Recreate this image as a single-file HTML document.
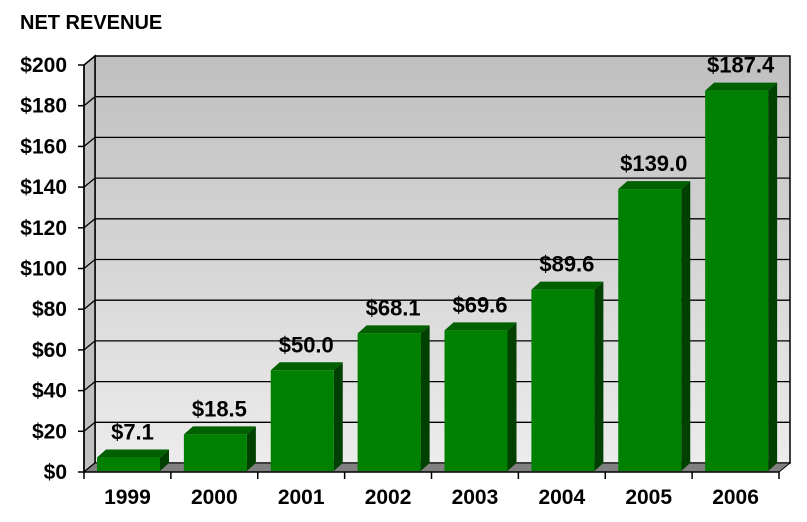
<!DOCTYPE html>
<html><head><meta charset="utf-8"><style>
body{margin:0;background:#fff;}
svg{display:block;font-family:"Liberation Sans",Arial,sans-serif;font-weight:bold;}
</style></head><body>
<svg id="chart" width="807" height="522" viewBox="0 0 807 522">
<defs><linearGradient id="wallg" x1="0" y1="0" x2="0" y2="1"><stop offset="0" stop-color="#bfbfbf"/><stop offset="1" stop-color="#ececec"/></linearGradient></defs>
<text x="20" y="29" font-size="20">NET REVENUE</text>
<g id="plot"></g>
</svg>
<script>
const categories=["1999","2000","2001","2002","2003","2004","2005","2006"];
const revenue=[7.1,18.5,50.0,68.1,69.6,89.6,139.0,187.4];
const valueLabels=["$7.1","$18.5","$50.0","$68.1","$69.6","$89.6","$139.0","$187.4"];
const yTicks=[0,20,40,60,80,100,120,140,160,180,200];
const yTickLabels=["$0","$20","$40","$60","$80","$100","$120","$140","$160","$180","$200"];

const NS="http://www.w3.org/2000/svg";
const g=document.getElementById('plot');
const X0=84,X1=779,Y0=472,Y1=65,DX=11,DY=-9;
const yMax=200;
const y=v=>Y0-(v/yMax)*(Y0-Y1);
const slot=(X1-X0)/categories.length;
const x=i=>X0+i*slot;
function el(t,a,txt){const e=document.createElementNS(NS,t);for(const k in a)e.setAttribute(k,a[k]);if(txt!=null)e.textContent=txt;g.appendChild(e);return e;}
let w=el('rect',{x:X0+DX,y:Y1+DY,width:X1-X0,height:Y0-Y1,fill:'url(#wallg)',stroke:'#000','stroke-width':1.5});


let sw=el('polygon',{points:`${X0},${Y1} ${X0+DX},${Y1+DY} ${X0+DX},${Y0+DY} ${X0},${Y0}`,fill:'#c0c0c0',stroke:'#000','stroke-width':1.5});


let fl=el('polygon',{points:`${X0},${Y0} ${X0+DX},${Y0+DY} ${X1+DX},${Y0+DY} ${X1},${Y0}`,fill:'#808080',stroke:'#000','stroke-width':1});


yTicks.forEach((t,i)=>{
  const yy=y(t);
  if(t>0&&t<yMax){let l=el('polyline',{points:`${X0},${yy} ${X0+DX},${yy+DY} ${X1+DX},${yy+DY}`,fill:'none',stroke:'#000','stroke-width':1.3});
  
  }
  let tk=el('line',{x1:X0-6,y1:yy,x2:X0,y2:yy,stroke:'#000','stroke-width':1.5});
  
  
  let tl=el('text',{x:X0-17,y:yy+7,'text-anchor':'end','font-size':21},yTickLabels[i]);
  
  
});
let ax=el('line',{x1:X0,y1:Y0,x2:X1,y2:Y0,stroke:'#000','stroke-width':1.5});


let ay=el('line',{x1:X0,y1:Y0,x2:X0,y2:Y1,stroke:'#000','stroke-width':1.5});


for(let i=0;i<=categories.length;i++){let t=el('line',{x1:x(i),y1:Y0,x2:x(i),y2:Y0+7,stroke:'#000','stroke-width':1.5});

}
const BD=9,BDY=-8;
categories.forEach((c,i)=>{
  const bx=x(i)+13,bw=63,top=y(revenue[i]),bot=Y0-1;
  let side=el('polygon',{points:`${bx+bw},${top} ${bx+bw+BD},${top+BDY} ${bx+bw+BD},${bot+BDY} ${bx+bw},${bot}`,fill:'#004000'});
  
  
  let tp=el('polygon',{points:`${bx},${top} ${bx+BD},${top+BDY} ${bx+bw+BD},${top+BDY} ${bx+bw},${top}`,fill:'#006000'});
  
  
  let r=el('rect',{x:bx,y:top,width:bw,height:bot-top,fill:'#008000'});
  
  
  let vl=el('text',{x:bx+bw/2+4,y:top-18,'text-anchor':'middle','font-size':22},valueLabels[i]);
  
  
  let cl=el('text',{x:x(i)+slot/2,y:504,'text-anchor':'middle','font-size':21},c);
  
  
});
</script>
</body></html>
